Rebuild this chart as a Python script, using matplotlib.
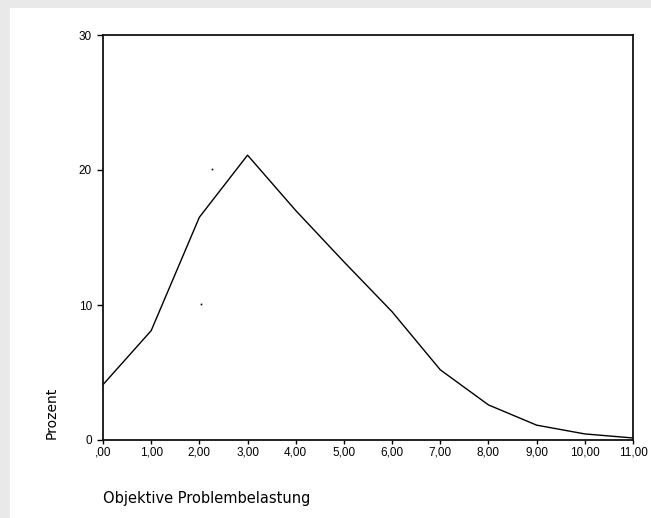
import matplotlib
matplotlib.use("Agg")
import matplotlib.pyplot as plt
from matplotlib.patches import Rectangle

# Werte
belastung = [0, 1, 2, 3, 4, 5, 6, 7, 8, 9, 10, 11]
prozent = [4.1, 8.1, 16.5, 21.1, 17.0, 13.2, 9.5, 5.2, 2.6, 1.1, 0.45, 0.15]
x_labels = [",00", "1,00", "2,00", "3,00", "4,00", "5,00", "6,00",
            "7,00", "8,00", "9,00", "10,00", "11,00"]
y_ticks = [0, 10, 20, 30]
# einzelne Punkte im Bild
punkt_x = [2.26, 2.03]
punkt_y = [20.1, 10.1]

W, H = 651, 518
fig = plt.figure(figsize=(W / 100, H / 100), dpi=100, facecolor="#e9e9e9")
fig.patches.append(Rectangle((10 / W, 0), 1 - 10 / W, 1 - 8 / H,
                             transform=fig.transFigure, facecolor="white",
                             edgecolor="none", zorder=-10))

ax = fig.add_axes([103 / W, 1 - 440 / H, 530 / W, 405 / H])
ax.set_zorder(5)
ax.set_facecolor("white")
ax.plot(belastung, prozent, color="black", linewidth=1.0)
ax.plot(punkt_x, punkt_y, linestyle="none", marker="s", markersize=1.2,
        color="black", markeredgewidth=0)

ax.set_xlim(0, 11)
ax.set_ylim(0, 30)
ax.set_xticks(belastung)
ax.set_xticklabels(x_labels)
ax.set_yticks(y_ticks)

font = "Liberation Sans"
for lab in ax.get_xticklabels() + ax.get_yticklabels():
    lab.set_fontfamily(font)
    lab.set_fontsize(8.5)

ax.tick_params(axis="x", direction="out", length=3, width=1, pad=2)
ax.tick_params(axis="y", direction="out", length=4, width=1, pad=4)
for s in ax.spines.values():
    s.set_linewidth(1.3)
    s.set_color("#111111")

fig.text(103 / W, 1 - 498 / H, "Objektive Problembelastung", ha="left",
         va="center", fontsize=10.5, family="DejaVu Sans", zorder=6)
fig.text(52 / W, 1 - 439 / H, "Prozent", rotation=90, ha="center",
         va="bottom", fontsize=10, family="DejaVu Sans", zorder=6)

fig.savefig("out.png", dpi=100, facecolor=fig.get_facecolor())
